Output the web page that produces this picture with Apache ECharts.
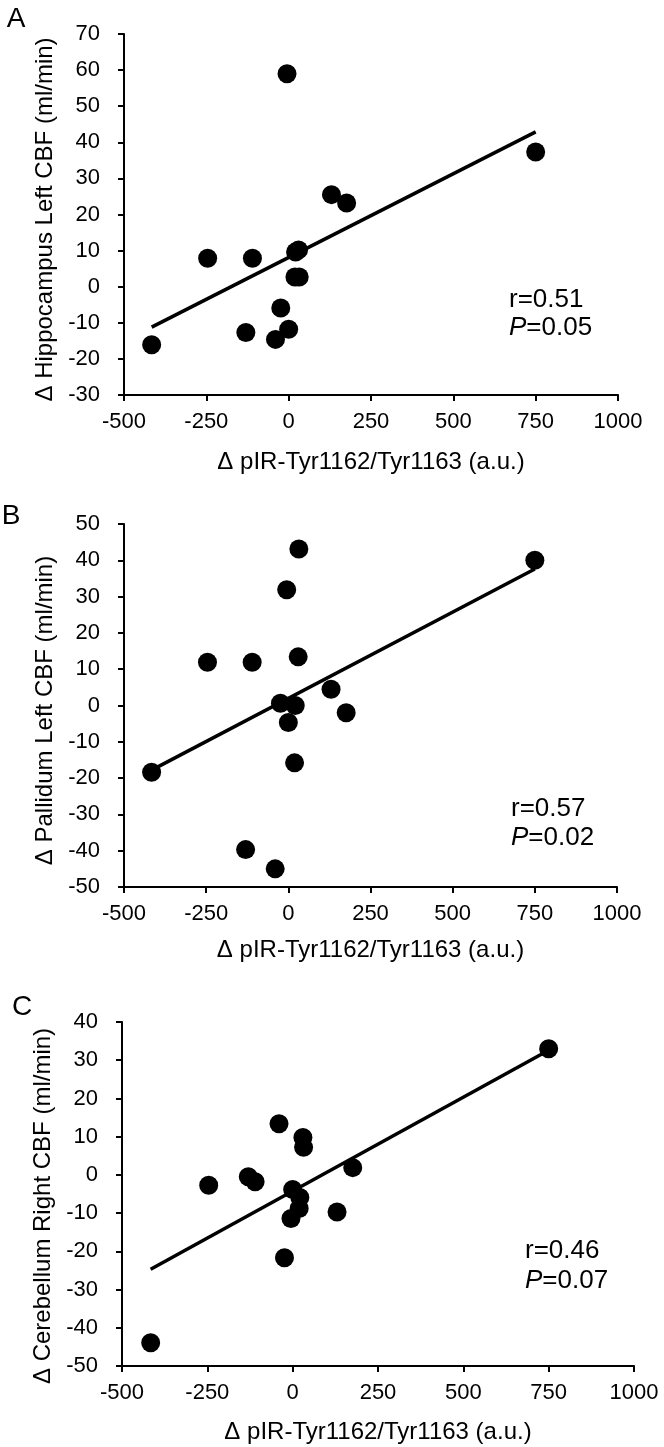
<html>
	<head>
		<meta http-equiv="content-type" content="text/html; charset=utf-8">
		<script src="https://cdn.jsdelivr.net/npm/echarts@6/dist/echarts.min.js"></script>

		<style>
			html body { width: 100%; background: #ffffff; padding: 0; margin: 0; }
			#chart { width: 664px; height: 1447px; }
		</style>

		<title>pIR vs CBF</title>
	</head>
	<body>
		<div id="chart"></div>

		<script type="text/javascript">
///////////////////////////////////////////////////////////////////////////////
// data, one entry per subject, same order in all arrays
var pir = [-416, -246, -130, -110, -40, -24, -5, 0, 19, 21, 30, 32, 130, 176, 750];

var hippoLeft = [-16.1, 7.9, -12.7, 7.9, -14.6, -5.9, 59.0, -11.8, 2.7, 9.6, 10.2, 2.7, 25.5, 23.2, 37.3];
var pallidumLeft = [-18.4, 11.9, -39.7, 11.9, -45.0, 0.6, 31.9, -4.7, -15.8, 0.0, 13.4, 43.1, 4.5, -2.0, 40.0];
var cerebRight = [-43.9, -2.7, -0.5, -1.8, 13.4, -21.7, -11.4, -3.8, -8.8, -5.9, 9.8, 7.2, -9.7, 1.9, 33.0];

// fitted line end points
var fitX = [-416, 750];
var fitA = [-11.2, 42.9];
var fitB = [-17.8, 37.6];
var fitC = [-24.7, 32.6];

// axis ranges / ticks
var xMin = -500, xMax = 1000, xStep = 250;
var yRangeA = [-30, 70];
var yRangeB = [-50, 50];
var yRangeC = [-50, 40];
var yStep = 10;

var xTitle = '\u0394 pIR-Tyr1162/Tyr1163 (a.u.)';
var yTitles = [
	'\u0394 Hippocampus Left CBF (ml/min)',
	'\u0394 Pallidum Left CBF (ml/min)',
	'\u0394 Cerebellum Right CBF (ml/min)'
];
var stats = [['0.51', '0.05'], ['0.57', '0.02'], ['0.46', '0.07']];
var letters = ['A', 'B', 'C'];

///////////////////////////////////////////////////////////////////////////////
var font = "'Liberation Sans', Arial, sans-serif";

// panel boxes in px
var grids = [
	{left: 124, top: 34, width: 494, height: 361},
	{left: 124, top: 524, width: 493, height: 363},
	{left: 122, top: 1022, width: 512, height: 344}
];
var xNameGap = [55, 51, 54];
var yPad = [10, 10, 24];
var letterPos = [[16, 19], [11, 516], [22, 1007]];
var statPos = [[509, 286, 28], [511, 794, 29], [525, 1236, 30]];

function pts(ys) {
	var d = [];
	for (var i = 0; i < pir.length; i++) d.push([pir[i], ys[i]]);
	return d;
}

// plain numbers, no thousands separator
function num(v) {
	return String(v);
}

function xaxis(i) {
	return {
		gridIndex: i, type: 'value', min: xMin, max: xMax, interval: xStep,
		name: xTitle, nameLocation: 'middle', nameGap: xNameGap[i],
		nameTextStyle: {fontFamily: font, fontSize: 24, color: '#000'},
		axisLine: {onZero: false, lineStyle: {color: '#000', width: 2}},
		axisTick: {show: true, length: 6, lineStyle: {color: '#000', width: 2}},
		axisLabel: {fontFamily: font, fontSize: 22, color: '#000', margin: 16, formatter: num},
		splitLine: {show: false}
	};
}

function yaxis(i, range) {
	return {
		gridIndex: i, type: 'value', min: range[0], max: range[1], interval: yStep,
		name: yTitles[i], nameLocation: 'middle', nameGap: 61,
		nameTextStyle: {fontFamily: font, fontSize: 24, color: '#000', padding: [0, yPad[i], 0, 0]},
		axisLine: {onZero: false, lineStyle: {color: '#000', width: 2}},
		axisTick: {show: true, length: 6, lineStyle: {color: '#000', width: 2}},
		axisLabel: {fontFamily: font, fontSize: 22, color: '#000', margin: 24, formatter: num},
		splitLine: {show: false}
	};
}

function dots(i, ys) {
	return {
		type: 'scatter', xAxisIndex: i, yAxisIndex: i, data: pts(ys),
		symbol: 'circle', symbolSize: 19, itemStyle: {color: '#000', opacity: 1}, z: 3
	};
}

function fit(i, ys) {
	return {
		type: 'line', xAxisIndex: i, yAxisIndex: i,
		data: [[fitX[0], ys[0]], [fitX[1], ys[1]]],
		symbol: 'none', lineStyle: {color: '#000', width: 3.5}, z: 2
	};
}

var graphics = [];
for (var i = 0; i < 3; i++) {
	graphics.push({
		type: 'text', x: letterPos[i][0], y: letterPos[i][1],
		style: {text: letters[i], font: '28px ' + font, fill: '#000', align: 'center', verticalAlign: 'middle'}
	});
	graphics.push({
		type: 'text', x: statPos[i][0], y: statPos[i][1],
		style: {
			text: 'r=' + stats[i][0] + '\n{i|P}=' + stats[i][1],
			fontFamily: font, fontSize: 26, fill: '#000', lineHeight: statPos[i][2],
			rich: {i: {fontFamily: font, fontSize: 26, fontStyle: 'italic', fill: '#000', lineHeight: statPos[i][2]}}
		}
	});
}

var option = {
	animation: false,
	backgroundColor: '#fff',
	grid: grids,
	xAxis: [xaxis(0), xaxis(1), xaxis(2)],
	yAxis: [yaxis(0, yRangeA), yaxis(1, yRangeB), yaxis(2, yRangeC)],
	series: [
		fit(0, fitA), dots(0, hippoLeft),
		fit(1, fitB), dots(1, pallidumLeft),
		fit(2, fitC), dots(2, cerebRight)
	],
	graphic: graphics
};

var chart = echarts.init(document.getElementById('chart'));
chart.setOption(option);
		</script>
	</body>
</html>
